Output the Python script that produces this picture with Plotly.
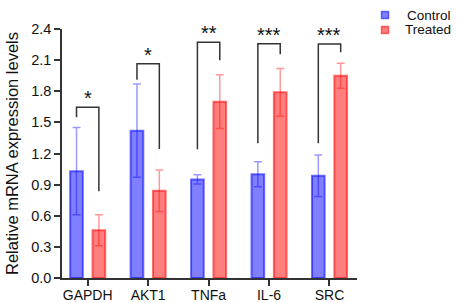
import plotly.graph_objects as go

genes = ["GAPDH", "AKT1", "TNFa", "IL-6", "SRC"]
control_mean = [1.03, 1.42, 0.95, 1.00, 0.985]
control_err = [0.42, 0.45, 0.045, 0.12, 0.20]
treated_mean = [0.46, 0.84, 1.70, 1.79, 1.95]
treated_err = [0.15, 0.20, 0.26, 0.23, 0.12]

# significance brackets: left leg bottom, bracket top, right leg bottom, label
sig_left = [1.55, 1.91, 1.24, 1.30, 1.30]
sig_top = [1.645, 2.064, 2.272, 2.259, 2.255]
sig_right = [0.835, 1.244, 2.10, 2.156, 2.175]
sig_label = ["*", "*", "**", "***", "***"]

y_ticks = [0.0, 0.3, 0.6, 0.9, 1.2, 1.5, 1.8, 2.1, 2.4]
series_names = ["Control", "Treated"]

FONT = "Arial, Liberation Sans, sans-serif"
BLUE_FILL = "rgba(0,0,255,0.5)"
BLUE_LINE = "rgba(0,0,255,0.55)"
BLUE_ERR = "rgba(0,0,255,0.4)"
RED_FILL = "rgba(255,0,0,0.5)"
RED_LINE = "rgba(255,0,0,0.55)"
RED_ERR = "rgba(255,0,0,0.4)"

xpos = list(range(len(genes)))
W = 0.21
OFF = 0.185

fig = go.Figure()
fig.add_trace(go.Bar(
    x=xpos, y=control_mean, width=W, offset=-OFF - W / 2,
    marker=dict(color=BLUE_FILL, line=dict(color=BLUE_LINE, width=2)),
    error_y=dict(type="data", array=control_err, color=BLUE_ERR, thickness=1.5, width=4),
    showlegend=False, name=series_names[0]))
fig.add_trace(go.Bar(
    x=xpos, y=treated_mean, width=W, offset=OFF - W / 2,
    marker=dict(color=RED_FILL, line=dict(color=RED_LINE, width=2)),
    error_y=dict(type="data", array=treated_err, color=RED_ERR, thickness=1.5, width=4),
    showlegend=False, name=series_names[1]))

for i in xpos:
    xl, xr = i - OFF, i + OFF
    fig.add_shape(type="path",
                  path=f"M {xl},{sig_left[i]} L {xl},{sig_top[i]} L {xr},{sig_top[i]} L {xr},{sig_right[i]}",
                  line=dict(color="#333333", width=1.5), xref="x", yref="y")
    fig.add_annotation(x=i, y=sig_top[i], text=sig_label[i], showarrow=False,
                       yanchor="bottom", yshift=-4,
                       font=dict(family=FONT, size=20, color="#111111"))

# legend (drawn in paper coordinates)
leg_y = [1.056, 0.996]
for name, fill, line, ly in zip(series_names, [BLUE_FILL, RED_FILL], [BLUE_LINE, RED_LINE], leg_y):
    fig.add_shape(type="rect", xref="paper", yref="paper",
                  xsizemode="pixel", ysizemode="pixel", xanchor=1.095, yanchor=ly,
                  x0=-3.5, x1=3.5, y0=-3.5, y1=3.5,
                  fillcolor=fill, line=dict(color=line, width=1.5))
    fig.add_annotation(xref="paper", yref="paper", x=1.327, y=ly, text=name,
                       showarrow=False, xanchor="right", yanchor="middle",
                       font=dict(family=FONT, size=13.5, color="#111111"))

fig.update_layout(
    width=457, height=303,
    margin=dict(l=62, r=100, t=29, b=25, autoexpand=False),
    paper_bgcolor="white", plot_bgcolor="white",
    font=dict(family=FONT, size=14, color="#111111"),
    showlegend=False,
    barmode="overlay",
)
fig.update_xaxes(
    range=[-0.425, 4.455], tickvals=xpos, ticktext=genes,
    showline=True, linecolor="#333333", linewidth=1.5,
    ticks="outside", ticklen=6, tickwidth=1.5, tickcolor="#333333",
    ticklabelstandoff=-3,
    showgrid=False, zeroline=False, automargin=False,
    tickfont=dict(family=FONT, size=14, color="#111111"))
fig.update_yaxes(
    range=[0, 2.4], tickvals=y_ticks, tickformat=".1f",
    showline=True, linecolor="#333333", linewidth=1.5,
    ticks="outside", ticklen=6, tickwidth=1.5, tickcolor="#333333",
    showgrid=False, zeroline=False, automargin=False,
    title=dict(text="Relative mRNA expression levels", standoff=8,
               font=dict(family=FONT, size=16.5, color="#111111")),
    tickfont=dict(family=FONT, size=14.5, color="#111111"))

fig.write_html("out.html", config={"displayModeBar": False},
               post_script="document.body.style.margin='0px';document.body.style.overflow='hidden';")
